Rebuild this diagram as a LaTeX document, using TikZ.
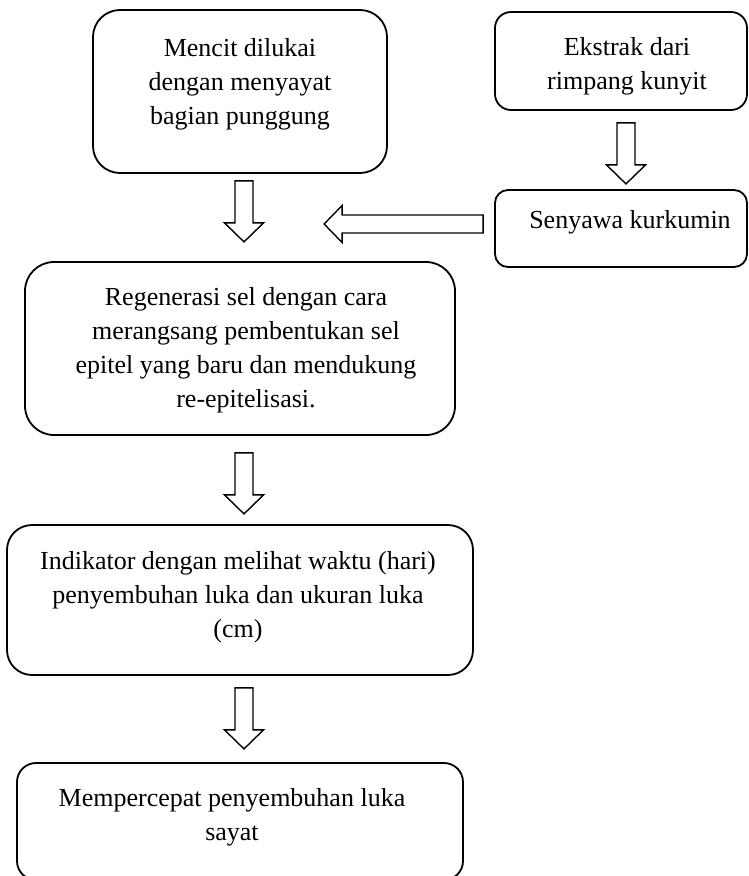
\documentclass[tikz,border=0pt]{standalone}
\usepackage{fontspec}
\setmainfont{Liberation Serif}
\usetikzlibrary{calc}
\newcommand\tx[2]{\begin{tabular}[t]{@{}c@{}}\fontsize{26}{#1}\selectfont #2\end{tabular}}
\tikzset{
  box/.style={draw, line width=1.8pt, rectangle, inner sep=0pt},
  txt/.style={anchor=base, inner sep=0pt, font=\fontsize{26}{34}\selectfont},
  arrowline/.style={draw, line width=1.4pt, line join=miter},
  pics/darrow/.style={code={
    \draw[arrowline] (-9,0) -- (9,0) -- (9,-42) -- (19.5,-42) -- (0,-61) -- (-19.5,-42) -- (-9,-42) -- cycle;}},
  pics/larrow/.style={code={
    \draw[arrowline] (0,9) -- (-141,9) -- (-141,18.5) -- (-159,0) -- (-141,-18.5) -- (-141,-9) -- (0,-9) -- cycle;}}
}
\begin{document}
\begin{tikzpicture}[x=1pt,y=1pt]
\useasboundingbox[fill=white] (0,0) rectangle (749,-876);
% boxes
\node[box, rounded corners=27pt, minimum width=294pt, minimum height=163pt] (A) at (240,-91.5) {};
\node[box, rounded corners=16pt, minimum width=252pt, minimum height=98pt] (B) at (621,-61) {};
\node[box, rounded corners=13pt, minimum width=252pt, minimum height=77pt] (C) at (621,-228.5) {};
\node[box, rounded corners=29pt, minimum width=430pt, minimum height=173pt] (D) at (240,-348.5) {};
\node[box, rounded corners=25pt, minimum width=466pt, minimum height=150pt] (E) at (240,-600) {};
\node[box, rounded corners=19pt, minimum width=446pt, minimum height=117pt] (F) at (240,-821.5) {};
% texts
\node[txt] (At) at (240,-56) {\tx{33pt}{Mencit dilukai\\dengan menyayat\\bagian punggung}};
\node[txt] (Bt) at (627,-55) {\tx{34pt}{Ekstrak dari\\rimpang kunyit}};
\node[txt] (Ct) at (630,-228) {\tx{34pt}{Senyawa kurkumin}};
\node[txt] (Dt) at (246,-305) {\tx{37pt}{Regenerasi sel dengan cara\\merangsang pembentukan sel\\epitel yang baru dan mendukung\\re-epitelisasi.}};
\node[txt] (Et) at (238,-569) {\tx{35pt}{Indikator dengan melihat waktu (hari)\\penyembuhan luka dan ukuran luka\\(cm)}};
\node[txt] (Ft) at (232,-806) {\tx{35pt}{Mempercepat penyembuhan luka\\sayat}};
% block arrows
\pic at ($(A.south)+(4,-7)$) {darrow};
\pic at ($(B.south)+(5,-12)$) {darrow};
\pic at ($(C.west)+(-11,4.5)$) {larrow};
\pic at ($(D.south)+(4,-17)$) {darrow};
\pic at ($(E.south)+(4,-12)$) {darrow};
\end{tikzpicture}
\end{document}
